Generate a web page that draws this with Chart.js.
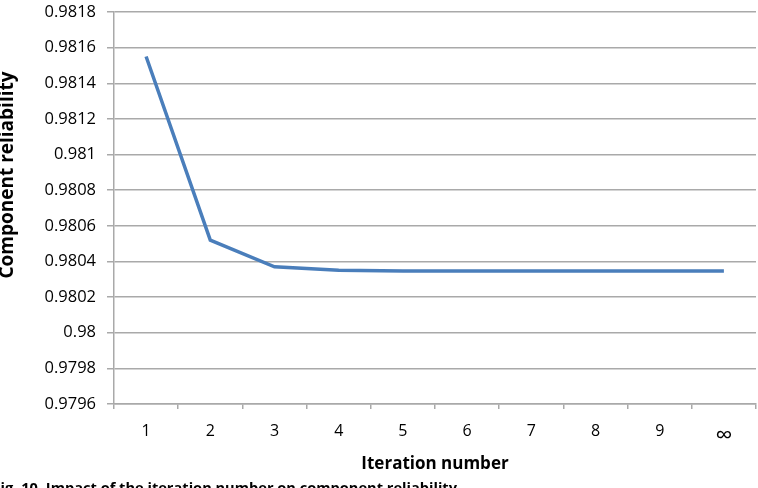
<!DOCTYPE html>
<html>
<head>
<meta charset="utf-8">
<script src="https://cdn.jsdelivr.net/npm/chart.js@4/dist/chart.umd.min.js"></script>
<style>
  html, body { margin: 0; padding: 0; background: #ffffff; }
  #wrap { width: 758px; height: 488px; position: relative; }
</style>
</head>
<body>
<div id="wrap"><canvas id="c" width="758" height="488"></canvas></div>
<script>
const categories = ['1', '2', '3', '4', '5', '6', '7', '8', '9', '\u221E'];
const reliability = [0.98155, 0.98052, 0.98037, 0.98035, 0.980346, 0.980346, 0.980346, 0.980346, 0.980346, 0.980346];
const yMin = 0.9796;
const yMax = 0.9818;
const yStep = 0.0002;
const xTitle = 'Iteration number';
const yTitle = 'Component reliability';
const caption = 'Fig. 10. Impact of the iteration number on component reliability';

const FONT = "'Open Sans', 'DejaVu Sans', sans-serif";
const GRID = '#a9a9a9';

const extraText = {
  id: 'extraText',
  afterDraw(chart) {
    const ctx = chart.ctx;
    ctx.save();
    ctx.fillStyle = '#000';
    // y axis title (cut at the left edge)
    ctx.font = "bold 19px " + FONT;
    ctx.translate(12.5, 175);
    ctx.rotate(-Math.PI / 2);
    ctx.textAlign = 'center';
    ctx.textBaseline = 'alphabetic';
    ctx.fillText(yTitle, 0, 0);
    ctx.restore();
    // caption, cut at the bottom edge
    ctx.save();
    ctx.fillStyle = '#000';
    ctx.font = "bold 14.6px " + FONT;
    ctx.textAlign = 'right';
    ctx.textBaseline = 'top';
    ctx.fillText(caption, 457, 482);
    ctx.restore();
  }
};

new Chart(document.getElementById('c'), {
  type: 'line',
  data: {
    labels: categories,
    datasets: [{
      data: reliability,
      borderColor: '#4a7ebb',
      borderWidth: 3.5,
      pointRadius: 0,
      tension: 0,
      fill: false
    }]
  },
  options: {
    responsive: false,
    animation: false,
    devicePixelRatio: 1,
    layout: { padding: { top: 12, right: 2, left: 0, bottom: 0 } },
    plugins: {
      legend: { display: false },
      tooltip: { enabled: false }
    },
    scales: {
      x: {
        type: 'category',
        offset: true,
        afterFit(scale) { scale.height = 84; scale.paddingLeft = 0; scale.paddingRight = 0; },
        grid: {
          offset: true,
          drawOnChartArea: false,
          drawTicks: true,
          tickLength: 5,
          color: GRID,
          lineWidth: 1.5
        },
        border: { color: GRID, width: 1.5 },
        ticks: {
          color: '#000',
          font: (c) => (c.index === 9 ? { family: FONT, size: 24 } : { family: FONT, size: 16 }),
          padding: 13,
          maxRotation: 0
        },
        title: {
          display: true,
          text: xTitle,
          color: '#000',
          font: { family: FONT, size: 17, weight: 'bold' },
          padding: { top: 2, bottom: 14 }
        }
      },
      y: {
        min: yMin,
        max: yMax,
        afterFit(scale) { scale.width = 114; scale.paddingTop = 0; scale.paddingBottom = 0; },
        grid: {
          drawTicks: true,
          tickLength: 7,
          color: GRID,
          lineWidth: 1.5
        },
        border: { color: GRID, width: 1.5 },
        ticks: {
          stepSize: yStep,
          color: '#000',
          font: { family: FONT, size: 16.5 },
          padding: 11,
          callback: (v) => String(parseFloat(Number(v).toFixed(4)))
        }
      }
    }
  },
  plugins: [extraText]
});
</script>
</body>
</html>
